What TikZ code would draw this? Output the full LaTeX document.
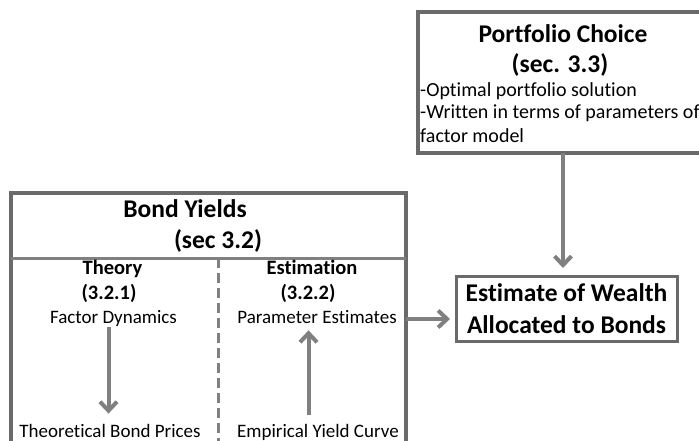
\documentclass[tikz,border=0pt]{standalone}
\usepackage{fontspec}
\setmainfont{Carlito}[Ligatures=NoCommon]
\usetikzlibrary{arrows.meta}
\definecolor{boxgray}{HTML}{6A6A6A}
\definecolor{arrgray}{HTML}{808080}

\begin{document}
\begin{tikzpicture}[x=1pt, y=-1pt,
		frame/.style={draw=boxgray, line width=4pt, inner sep=0pt, outer sep=0pt},
		rule/.style={draw=arrgray, line width=3pt},
		title/.style={font=\fontsize{25.5}{32}\selectfont\bfseries, inner sep=0pt, anchor=base},
		sub/.style={font=\fontsize{20.5}{24}\selectfont\bfseries, inner sep=0pt, anchor=base},
		body/.style={font=\fontsize{19}{23}\selectfont, inner sep=0pt, anchor=base},
		note/.style={font=\fontsize{20}{23}\selectfont, inner sep=0pt, anchor=base west},
		arr/.style={draw=arrgray, line width=4pt, -{Straight Barb[length=9pt,width=17pt]}}]
		\clip (0,0) rectangle (699,441);

		% boxes
		\node [frame, anchor=north west, minimum width=290pt, minimum height=141pt] (pc) at (418,12) {};
		\node [frame, anchor=north west, minimum width=395pt, minimum height=270pt] (by) at (11,193) {};
		\node [frame, line width=3pt, minimum width=221pt, minimum height=65pt, align=center,
			font=\fontsize{25.5}{32}\selectfont\bfseries] (est) at (566.5,308.5) {Estimate of Wealth\\Allocated to Bonds};

		% portfolio choice
		\node [title] (pct) at (563,43) {Portfolio Choice};
		\node [title] (pcs) at (560,73) {(sec. 3.3)};
		\node [note] (pc1) at (420,97)  {-Optimal portfolio solution};
		\node [note] (pc2) at (420,119) {-Written in terms of parameters of};
		\node [note] (pc3) at (420,143) {factor model};

		% bond yields
		\node [title] (byt) at (185,218) {Bond Yields};
		\node [title] (bys) at (218,248) {(sec 3.2)};
		\path (by.north west) ++(0,65) coordinate (dl);
		\path (by.north east) ++(0,65) coordinate (dr);
		\coordinate (dt) at (218,258);
		\draw [rule] (dl) -- (dr);
		\draw [rule, dash pattern=on 10pt off 5pt] (dt) -- (dt |- by.south);

		\node [sub]  (th)  at (112.5,274) {Theory};
		\node [sub]  (thn) at (109,299)   {(3.2.1)};
		\node [body] (fd)  at (113.5,323) {Factor Dynamics};
		\node [body] (tbp) at (110,437)   {Theoretical Bond Prices};

		\node [sub]  (es)  at (312,274) {Estimation};
		\node [sub]  (esn) at (308,299) {(3.2.2)};
		\node [body] (pe)  at (317,323) {Parameter Estimates};
		\node [body] (eyc) at (318,437) {Empirical Yield Curve};

		% connectors
		\draw [arr, shorten <=1pt, shorten >=10pt] (fd.south -| 108.5,0) -- (tbp.north -| 108.5,0);
		\draw [arr, shorten <=9pt, shorten >=7pt] (eyc.north -| 308.5,0) -- (pe.south -| 308.5,0);
		\draw [arr, shorten >=6pt] (by.east |- 0,319) -- (est.west |- 0,319);
		\draw [arr, shorten >=8pt] (pc.south) -- (pc.south |- est.north);
	\end{tikzpicture}
\end{document}
